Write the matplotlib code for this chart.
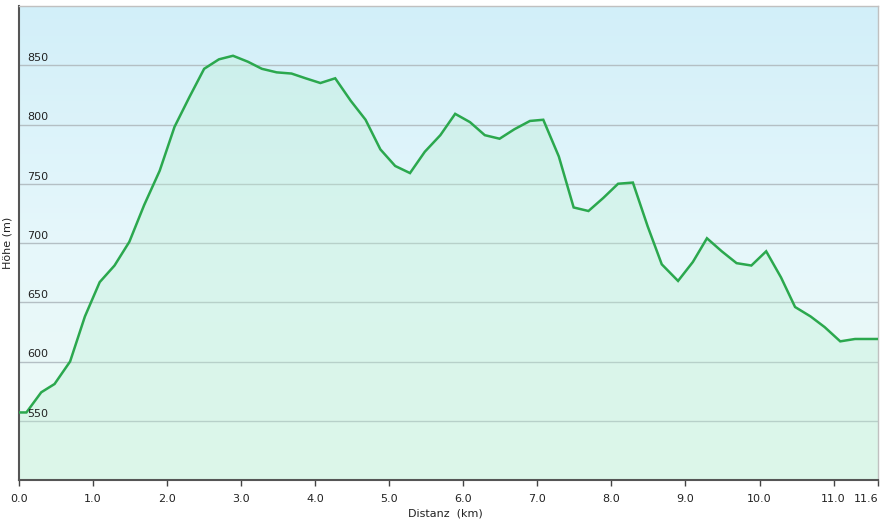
import numpy as np
import matplotlib
matplotlib.use("Agg")
import matplotlib.pyplot as plt
from matplotlib.colors import LinearSegmentedColormap
import matplotlib.transforms as mtransforms

# elevation profile
distance_km = [0.0, 0.1, 0.3, 0.48, 0.69, 0.89, 1.09, 1.29, 1.49, 1.69, 1.90,
               2.10, 2.30, 2.50, 2.70, 2.89, 3.09, 3.28, 3.48, 3.68, 3.87,
               4.07, 4.27, 4.48, 4.68, 4.88, 5.08, 5.28, 5.48, 5.69, 5.89,
               6.09, 6.29, 6.49, 6.69, 6.90, 7.08, 7.29, 7.49, 7.69, 7.89,
               8.09, 8.29, 8.49, 8.68, 8.90, 9.10, 9.29, 9.49, 9.69, 9.89,
               10.09, 10.29, 10.48, 10.69, 10.88, 11.09, 11.29, 11.6]
elevation_m = [557, 557, 574, 581, 600, 638, 667, 681, 701, 732, 761,
               798, 823, 847, 855, 858, 853, 847, 844, 843, 839,
               835, 839, 820, 804, 779, 765, 759, 777, 791, 809,
               802, 791, 788, 796, 803, 804, 773, 730, 727, 738,
               750, 751, 714, 682, 668, 684, 704, 693, 683, 681,
               693, 671, 646, 638, 629, 617, 619, 619]

x_ticks = [0, 1, 2, 3, 4, 5, 6, 7, 8, 9, 10, 11, 11.6]
x_tick_labels = ["0.0", "1.0", "2.0", "3.0", "4.0", "5.0", "6.0", "7.0",
                 "8.0", "9.0", "10.0", "11.0", "11.6"]
y_ticks = [550, 600, 650, 700, 750, 800, 850]

W, H = 885, 522
fig = plt.figure(figsize=(W / 100, H / 100), dpi=100)
fig.patch.set_facecolor("white")
ax = fig.add_axes([19 / W, (H - 480) / H, (878 - 19) / W, (480 - 6) / H])

xmin, xmax = 0, 11.6
ymin, ymax = 500, 900
ax.set_xlim(xmin, xmax)
ax.set_ylim(ymin, ymax)

# background gradient: light blue at top to pale mint at bottom
bg = LinearSegmentedColormap.from_list("bg", ["#eefbf5", "#e6f7fb", "#d2eff9"])
grad = np.linspace(0, 1, 256).reshape(-1, 1)
ax.imshow(grad, cmap=bg, aspect="auto", origin="lower",
          extent=[xmin, xmax, ymin, ymax], zorder=0)

# grid lines
for y in y_ticks:
    ax.axhline(y, color="#b4bfc4", lw=1.0, zorder=1)

# area under the profile
ax.fill_between(distance_km, elevation_m, ymin, color="#bdf0d4", alpha=0.35,
                lw=0, zorder=2)
ax.plot(distance_km, elevation_m, color="#2ba84e", lw=1.8, zorder=3,
        solid_joinstyle="miter")

# y labels sit inside the plot, just above their grid lines
trans = mtransforms.offset_copy(ax.transData, fig=fig, x=0, y=1.5, units="points")
for y in y_ticks:
    ax.text(0.11, y, str(y), transform=trans, fontsize=8, color="#222222",
            ha="left", va="bottom", zorder=4)
ax.set_yticks([])

ax.set_xticks(x_ticks)
ax.set_xticklabels(x_tick_labels, fontsize=8, color="#222222")
ax.get_xticklabels()[-1].set_horizontalalignment("right")
ax.get_xticklabels()[-1].set_x(11.57)
ax.tick_params(axis="x", direction="out", length=4, width=1, color="#444444",
               pad=6)

for side in ["top", "right"]:
    ax.spines[side].set_color("#c0c0c0")
    ax.spines[side].set_linewidth(1)
for side in ["left", "bottom"]:
    ax.spines[side].set_color("#555555")
    ax.spines[side].set_linewidth(1.5)

fig.text(8 / W, 1 - 243 / H, "Höhe (m)", rotation=90, fontsize=8,
         color="#222222", ha="center", va="center")
fig.text(445 / W, 1 - 513 / H, "Distanz  (km)", fontsize=8, color="#222222",
         ha="center", va="center")

plt.savefig("out.png", dpi=100)
